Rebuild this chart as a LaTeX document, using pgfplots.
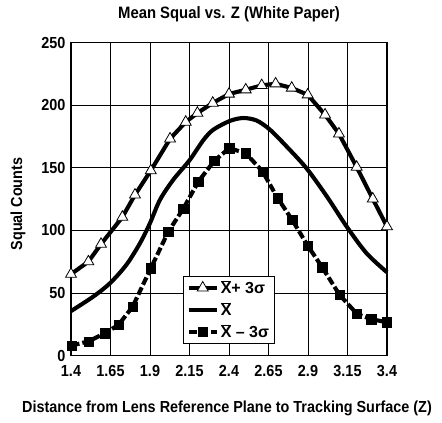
\documentclass[border=0pt]{standalone}
\usepackage{fontspec}
\setmainfont{Liberation Sans}[FakeStretch=0.9]
\newfontfamily\legfont{Liberation Sans}
\usepackage{pgfplots}
\pgfplotsset{compat=1.18}
\newcommand{\xbar}{$\overline{\hbox{X}}$}
\begin{document}
\begin{tikzpicture}
\useasboundingbox (-71pt,-67.5pt) rectangle (371pt,355.5pt);
\begin{axis}[
  scale only axis,
  width=316pt, height=312.8pt,
  xmin=1.4, xmax=3.4, ymin=0, ymax=250,
  xtick={1.4,1.65,1.9,2.15,2.4,2.65,2.9,3.15,3.4},
  xticklabels={1.4,1.65,1.9,2.15,2.4,2.65,2.9,3.15,3.4},
  ytick={0,50,100,150,200,250},
  yticklabels={0,50,100,150,200,250},
  major tick length=0pt,
  grid=major,
  major grid style={black, line width=0.8pt},
  axis line style={black, line width=1.6pt},
  tick label style={font=\bfseries\fontsize{16}{18}\selectfont},
  xticklabel style={yshift=-6pt},
  yticklabel style={xshift=-2pt},
  legend style={at={(0.355,0.254)}, anchor=north west, draw=black, line width=1pt,
     fill=white, font=\legfont\bfseries\fontsize{16}{18}\selectfont, inner xsep=3pt, inner ysep=2pt,
     row sep=3.5pt, cells={anchor=west}},
  legend image code/.code={\draw[mark repeat=2,mark phase=2,#1] plot coordinates {(0pt,0pt) (14pt,0pt) (28pt,0pt)};},
  clip=false,
]
\addplot[black, line width=4.1pt, mark=triangle*, mark size=6.3pt,
  mark options={fill=white, draw=black, line width=0.8pt, solid}] coordinates {
(1.40,65) (1.51,75) (1.59,89) (1.725,110.6) (1.805,128.4) (1.905,147.8)
(2.027,173.2) (2.126,186.6) (2.20,193.8) (2.297,201.8) (2.40,209) (2.506,212.4)
(2.607,215.9) (2.695,217.2) (2.797,213.8) (2.898,208.4) (3.008,192.4)
(3.096,177.2) (3.208,150.6) (3.31,125.2) (3.40,103)
};
\addlegendentry{\xbar+ 3σ}
\addplot[black, line width=4.1pt, smooth, no markers] coordinates {
(1.40,35.5) (1.54,47) (1.647,57.8) (1.75,72.4) (1.837,89.8) (1.90,105.8)
(1.963,124.4) (2.047,140.4) (2.15,156) (2.237,172) (2.30,180.4) (2.406,187.5)
(2.49,189.8) (2.575,187.8) (2.66,180.4) (2.765,167) (2.89,149.7) (3.02,127)
(3.145,103) (3.27,81.8) (3.40,66.5)
};
\addlegendentry{\xbar}
\addplot[black, line width=4.1pt, dash pattern=on 8pt off 3pt, mark=square*, mark size=4.6pt,
  mark options={fill=black, solid, line width=0.5pt}] coordinates {
(1.404,7.9) (1.51,11.3) (1.615,17.8) (1.70,24.4) (1.79,39) (1.905,69.7)
(2.016,99) (2.11,117.2) (2.206,139) (2.307,155.6) (2.402,165.7) (2.506,161.7)
(2.613,147) (2.708,125.7) (2.80,108.4) (2.898,87.8) (2.99,70.5) (3.10,48.4)
(3.21,33.2) (3.30,29) (3.40,26.6)
};
\addlegendentry{\xbar\ – 3σ}
\end{axis}
\node[font=\bfseries\fontsize{16.5}{19}\selectfont] at (158pt,341.5pt) {Mean Squal vs. Z (White Paper)};
\node[font=\bfseries\fontsize{16}{19}\selectfont] at (156pt,-52.5pt) {Distance from Lens Reference Plane to Tracking Surface (Z)};
\node[font=\bfseries\fontsize{16}{19}\selectfont, rotate=90] at (-53pt,151.5pt) {Squal Counts};
\end{tikzpicture}
\end{document}
